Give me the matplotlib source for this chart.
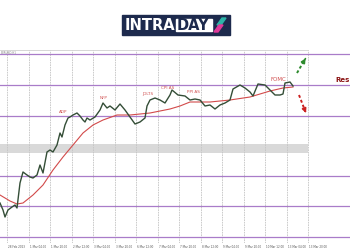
import matplotlib
matplotlib.use("Agg")
import matplotlib.pyplot as plt
from matplotlib.patches import Rectangle, Polygon
from matplotlib.transforms import blended_transform_factory

# price path (hourly-ish index, price)
px = [0, 3, 5, 8, 12, 15, 17, 20, 23, 27, 30, 33, 37, 40, 43, 47, 50, 53, 57, 60,
      62, 65, 68, 70, 73, 77, 80, 83, 85, 87, 90, 95, 100, 103, 107, 110, 115, 120, 125, 130,
      135, 140, 145, 147, 150, 155, 160, 165, 170, 172, 178, 185, 190, 195, 200, 205, 210, 215, 220, 225,
      230, 233, 240, 245, 250, 253, 258, 265, 270, 275, 280, 283, 285, 290, 293]
price = [1.0517, 1.0510, 1.0503, 1.0510, 1.0513, 1.0515, 1.0512, 1.0537, 1.0548, 1.0545,
         1.0543, 1.0542, 1.0545, 1.0555, 1.0547, 1.0568, 1.0570, 1.0568, 1.0575, 1.0587,
         1.0583, 1.0595, 1.0602, 1.0603, 1.0605, 1.0607, 1.0604, 1.0600, 1.0598, 1.0602,
         1.0600, 1.0603, 1.0610, 1.0617, 1.0612, 1.0614, 1.0610, 1.0616, 1.0610, 1.0603,
         1.0596, 1.0598, 1.0602, 1.0614, 1.0620, 1.0622, 1.0620, 1.0617, 1.0625, 1.0630,
         1.0625, 1.0624, 1.0620, 1.0621, 1.0620, 1.0614, 1.0615, 1.0611, 1.0615, 1.0617,
         1.0620, 1.0631, 1.0635, 1.0632, 1.0628, 1.0624, 1.0636, 1.0635, 1.0630, 1.0625,
         1.0625, 1.0626, 1.0637, 1.0638, 1.0634]

# moving average
ma_x = [0, 10, 17, 23, 33, 43, 53, 63, 73, 83, 93, 103, 117, 130, 150, 170, 180, 190,
        210, 230, 250, 270, 283, 293]
ma = [1.0525, 1.0519, 1.0516, 1.0517, 1.0525, 1.0535, 1.0550, 1.0563, 1.0575, 1.0587,
      1.0595, 1.0600, 1.0605, 1.0605, 1.0607, 1.0611, 1.0614, 1.0618, 1.0618, 1.0620,
      1.0623, 1.0629, 1.0632, 1.0633]

levels = [1.0666, 1.0635, 1.0604, 1.0544, 1.0514, 1.0483]
zone = (1.0567, 1.0576)

events = ["ADP", "NFP", "JOLTS", "CPI AS", "PPI AS", "FOMC"]
event_x = [63, 104, 148, 168, 193, 278]
event_y = [1.0608, 1.0622, 1.0626, 1.0632, 1.0628, 1.0640]

grid_x = [7.3 + 21.5 * k for k in range(15)]
tick_labels = ["28 Feb 2023", "1 Mar 04:00", "1 Mar 20:00", "2 Mar 12:00", "3 Mar 04:00",
               "3 Mar 20:00", "6 Mar 12:00", "7 Mar 04:00", "7 Mar 20:00", "8 Mar 12:00",
               "9 Mar 04:00", "9 Mar 20:00", "10 Mar 12:00", "13 Mar 04:00", "13 Mar 20:00"]

W, H = 350, 250
fig = plt.figure(figsize=(3.5, 2.5), dpi=100)
fig.patch.set_facecolor("white")

# logo
def fx(x):
    return x / W

def fy(y):
    return 1 - y / H

fig.patches.append(Rectangle((fx(122), fy(35)), fx(230) - fx(122), fy(15) - fy(35),
                             transform=fig.transFigure, color="#1d2a4d"))
fig.patches.append(Rectangle((fx(176), fy(31)), fx(212) - fx(176), fy(19) - fy(31),
                             transform=fig.transFigure, color="white"))
fig.text(fx(125), fy(25.5), "INTRA", color="white", fontsize=10.5, fontweight="bold",
         ha="left", va="center")
fig.text(fx(177), fy(25.5), "DAY", color="#1d2a4d", fontsize=10.5, fontweight="bold",
         ha="left", va="center")
fig.patches.append(Polygon([(fx(217), fy(25)), (fx(222), fy(18)), (fx(226), fy(18)), (fx(221), fy(25))],
                           closed=True, transform=fig.transFigure, color="#2cb5a8"))
fig.patches.append(Polygon([(fx(214), fy(32)), (fx(219), fy(25)), (fx(223), fy(25)), (fx(218), fy(32))],
                           closed=True, transform=fig.transFigure, color="#e0399a"))

# chart
top_y, bot_y = 50, 243
p_top = 1.0670
p_bot = p_top - (bot_y - top_y) * 0.0001
ax = fig.add_axes([0, 1 - bot_y / H, 1, (bot_y - top_y) / H])
ax.set_xlim(0, W)
ax.set_ylim(p_bot, p_top)
ax.axis("off")

gx = 308 / W
ax.axhspan(zone[0], zone[1], xmin=0, xmax=gx, color="#d9d9d9", lw=0, zorder=1)
for x in grid_x:
    ax.axvline(x, color="#c4c4c4", lw=0.6, ls=(0, (2, 1)), zorder=1)
ax.axhline(p_top, xmax=gx, color="#d0d0d0", lw=0.6, zorder=1)
for lv in levels:
    ax.axhline(lv, color="#a97cc9", lw=0.9, zorder=2)

ax.plot(ma_x, ma, color="#d24a4a", lw=0.8, zorder=3)
ax.plot(px, price, color="#344e37", lw=1.0, zorder=4)

for name, x, y in zip(events, event_x, event_y):
    ax.text(x, y, name, color="#d05050", fontsize=3 if name != "FOMC" else 4,
            ha="center", va="center", zorder=5)

# scenario arrows
ax.plot([297, 304], [1.0647, 1.0659], color="#2e8b2e", lw=1.4, ls=(0, (1.5, 1.2)), zorder=5)
ax.annotate("", xy=(307, 1.0664), xytext=(304, 1.0659),
            arrowprops=dict(arrowstyle="-|>", color="#2e8b2e", lw=1.2, mutation_scale=6))
ax.plot([299, 304], [1.0625, 1.0612], color="#cc2222", lw=1.4, ls=(0, (1.5, 1.2)), zorder=5)
ax.annotate("", xy=(306, 1.0607), xytext=(304, 1.0612),
            arrowprops=dict(arrowstyle="-|>", color="#cc2222", lw=1.2, mutation_scale=6))

ax.text(349.5, 1.0640, "Res", color="#8b1414", fontsize=5, fontweight="bold",
        ha="right", va="center", clip_on=False)
ax.text(1, p_top - 0.00005, "EURUSD,H1", color="#888888", fontsize=2, ha="left", va="top")

tr = blended_transform_factory(ax.transData, fig.transFigure)
for x, lab in zip(grid_x, tick_labels):
    ax.text(x + 1, fy(247.5), lab, transform=tr, fontsize=2, color="#555555",
            ha="left", va="center", clip_on=False)

fig.savefig("out.png", dpi=100, facecolor="white")
